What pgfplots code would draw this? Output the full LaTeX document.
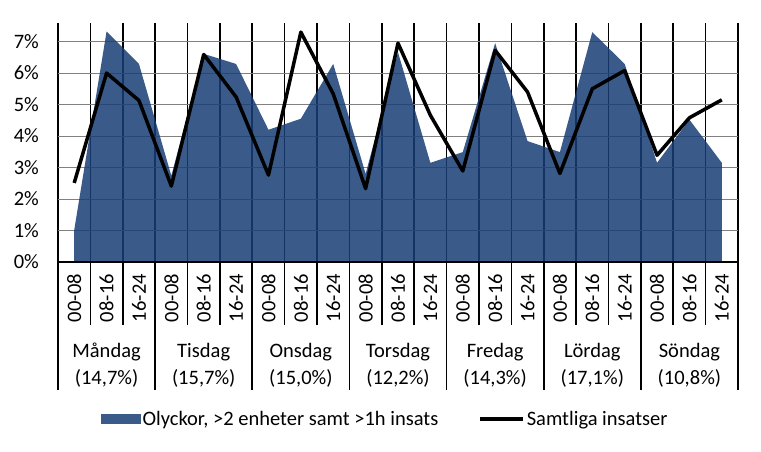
\documentclass[border=0pt]{standalone}
\usepackage{fontspec}
\setmainfont{Carlito}
\usepackage{pgfplots}
\usepackage{pgfplotstable}
\pgfplotsset{compat=1.18}

\definecolor{areablue}{RGB}{23,62,118}

% share per shift, percent
\pgfplotstableread{
x olyckor samtliga
0  1.01 2.51
1  7.32 6.00
2  6.29 5.13
3  2.74 2.41
4  6.61 6.59
5  6.29 5.24
6  4.20 2.76
7  4.55 7.30
8  6.29 5.34
9  2.80 2.33
10 6.66 6.95
11 3.15 4.66
12 3.49 2.89
13 6.95 6.72
14 3.84 5.40
15 3.49 2.81
16 7.30 5.50
17 6.29 6.08
18 3.15 3.39
19 4.52 4.58
20 3.15 5.15
}\data

\newcommand{\lab}{\fontsize{20.5}{24}\selectfont}

\begin{document}
\begin{tikzpicture}[x=1pt,y=1pt]
\useasboundingbox (0,0) rectangle (761,452);

% category dividers
\foreach \i in {0,...,21}
  \draw[line width=1.6pt] ({58+680/21*\i},127) -- ({58+680/21*\i},429);
\foreach \i in {0,3,...,21}
  \draw[line width=1.6pt] ({58+680/21*\i},62) -- ({58+680/21*\i},127);

\begin{axis}[
    at={(58pt,190pt)}, anchor=south west,
    scale only axis, width=680pt, height=239pt,
    xmin=-0.5, xmax=20.5, ymin=0, ymax=7.59,
    axis line style={draw=none},
    major tick length=0pt,
    ytick={0,...,7},
    ymajorgrids,
    grid style={gray, line width=0.9pt},
    xtick={0,...,20},
    xticklabels={00-08,08-16,16-24,00-08,08-16,16-24,00-08,08-16,16-24,00-08,08-16,16-24,00-08,08-16,16-24,00-08,08-16,16-24,00-08,08-16,16-24},
    xticklabel style={rotate=90, anchor=east, inner sep=0pt},
    xticklabel shift=12pt,
    yticklabel={\pgfmathprintnumber{\tick}\%},
    yticklabel style={anchor=east, inner sep=0pt},
    yticklabel shift=19pt,
    ticklabel style={font=\lab},
    /pgf/number format/assume math mode=true,
    legend columns=2,
    legend style={at={(0.481,-0.657)}, anchor=center, draw=none, fill=none,
      font=\lab, /tikz/every even column/.append style={column sep=38pt}},
  ]
  \addplot[draw=none, fill=areablue, fill opacity=0.85,
    legend image code/.code={\fill[areablue, fill opacity=0.85] (0pt,-5pt) rectangle (40pt,5pt);}]
    table[x=x, y=olyckor] {\data} \closedcycle;
  \addlegendentry{{Olyckor, >2 enheter samt >1h insats}}
  \addplot[black, line width=3.5pt, line join=round, mark=none,
    legend image code/.code={\draw[line width=3.5pt] (0pt,0pt) -- (43pt,0pt);}]
    table[x=x, y=samtliga] {\data};
  \addlegendentry{Samtliga insatser}
\end{axis}

\draw[line width=1.6pt] (58,190) -- (738,190);

% day groups
\foreach \d [count=\g from 0] in {Måndag,Tisdag,Onsdag,Torsdag,Fredag,Lördag,Söndag}
  \node[font=\lab] at ({58+680/21*(3*\g+1.5)},100) {\d};
\foreach \p [count=\g from 0] in {{14,7},{15,7},{15,0},{12,2},{14,3},{17,1},{10,8}}
  \node[font=\lab] at ({58+680/21*(3*\g+1.5)},74) {(\p\%)};
\end{tikzpicture}
\end{document}
